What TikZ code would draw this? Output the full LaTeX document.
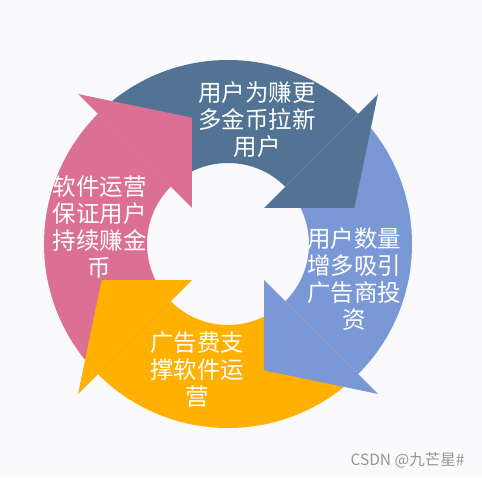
\documentclass[tikz,border=0pt]{standalone}
\usepackage{fontspec}
\newfontfamily\cjk{Noto Sans CJK SC}
\definecolor{bgc}{RGB}{250,249,252}
\definecolor{darkblue}{RGB}{82,115,148}
\definecolor{lightblue}{RGB}{122,152,214}
\definecolor{ambery}{RGB}{255,176,0}
\definecolor{pinkc}{RGB}{220,112,148}
\definecolor{wmark}{RGB}{150,150,150}
\begin{document}
\begin{tikzpicture}[x=1pt,y=1pt,
  lbl/.style={text=white,align=center,font=\cjk\fontsize{23.5}{27}\selectfont,inner sep=0pt},
  wm/.style={text=wmark,font=\cjk\fontsize{15.5}{17}\selectfont,inner sep=0pt}]
\fill[bgc] (0,0) rectangle (482,477);
\useasboundingbox (0,0) rectangle (482,477);
\def\Ro{184}\def\Ri{81}
\begin{scope}[shift={(228,233)}]
  % bodies
  \foreach \b/\c in {45/darkblue,-45/lightblue,-135/ambery,135/pinkc}{
    \fill[\c] (\b+90:\Ro) arc[start angle=\b+90,end angle=\b,radius=\Ro]
      -- (\b:\Ri) arc[start angle=\b,end angle=\b+90,radius=\Ri] -- cycle;
  }
  % heads
  \foreach \b/\c in {45/darkblue,-45/lightblue,-135/ambery,135/pinkc}{
    \fill[\c] (\b:212) -- (\b-29:131.5) -- (\b:51) -- cycle;
  }
\end{scope}
\node[lbl] (t1) at (257,357) {用户为赚更\\多金币拉新\\用户};
\node[lbl] (t2) at (354,198) {用户数量\\增多吸引\\广告商投\\资};
\node[lbl] (t3) at (197,107) {广告费支\\撑软件运\\营};
\node[lbl] (t4) at (99.5,249.5) {软件运营\\保证用户\\持续赚金\\币};
\node[wm] (w) at (407.5,17) {CSDN @九芒星\#};
\end{tikzpicture}
\end{document}
